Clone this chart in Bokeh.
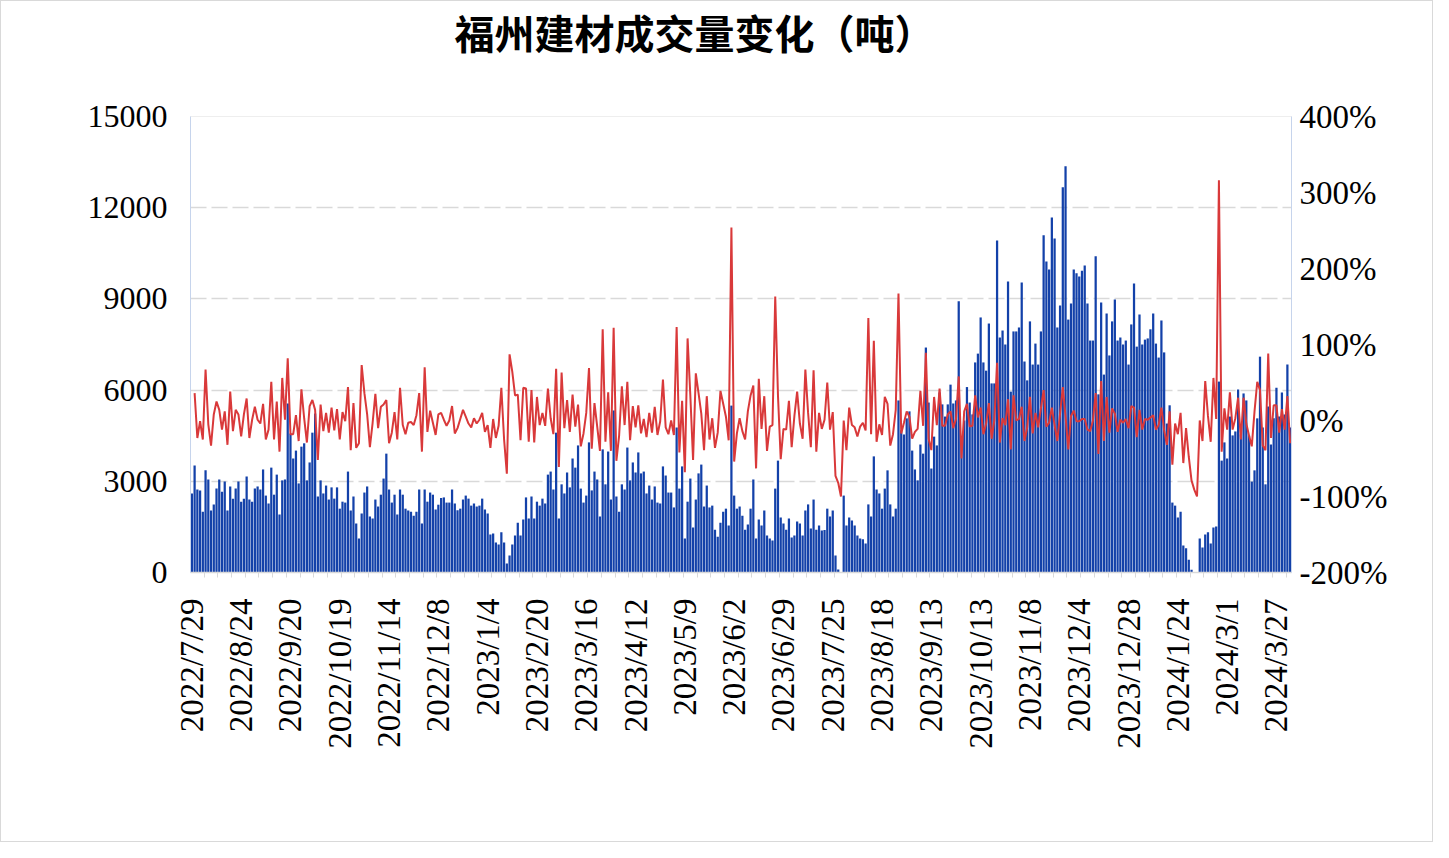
import math
from bokeh.plotting import figure
from bokeh.models import Range1d, LinearAxis, FixedTicker, ColumnDataSource, NumeralTickFormatter, Title
from bokeh.embed import file_html
from bokeh.resources import INLINE

title_text = "福州建材成交量变化（吨）"

# x-axis labels (one every 18 trading days)
tick_labels = ["2022/7/29", "2022/8/24", "2022/9/20", "2022/10/19", "2022/11/14", "2022/12/8",
               "2023/1/4", "2023/2/20", "2023/3/16", "2023/4/12", "2023/5/9", "2023/6/2",
               "2023/6/29", "2023/7/25", "2023/8/18", "2023/9/13", "2023/10/13", "2023/11/8",
               "2023/12/4", "2023/12/28", "2024/1/24", "2024/3/1", "2024/3/27"]

# daily volume (tonnes)
volume = [
    2600, 3520, 2730, 2700, 2000, 3360, 3060, 2040, 2240, 2760, 3060, 2660, 2990, 2040, 2830, 2430, 2760,
    2990, 2330, 2430, 3160, 2400, 2330, 2760, 2830, 2730, 3390, 2530, 2270, 3450, 2560, 3220, 1910,
    3030, 3060, 5560, 4570, 3750, 4010, 2930, 4140, 4250, 3030, 3620, 4600, 5230, 2500, 3030, 2600, 2860,
    2400, 2800, 2430, 2800, 2100, 2330, 2300, 3320, 2040, 2500, 1610, 1120, 1940, 2630, 2830, 1840,
    1780, 2400, 2170, 2560, 3090, 3910, 2730, 2300, 2560, 1910, 2730, 2560, 2100, 2040, 2000, 1870, 2000,
    2730, 1610, 2730, 2330, 2630, 2560, 2070, 2230, 2450, 2470, 2300, 2300, 2730, 2270, 2050, 2100, 2400,
    2530, 2430, 2200, 2270, 2170, 2200, 2430, 2070, 1940, 1250, 1280, 990, 920, 1320, 990, 300, 560,
    920, 1220, 1640, 1220, 1740, 2470, 1780, 2500, 1780, 2330, 2200, 2430, 2270, 3220, 3320, 2730, 4600,
    1780, 2900, 2600, 3290, 2800, 3750, 3450, 4180, 2760, 2300, 2530, 4280, 2700, 3320, 3060, 1840, 4050,
    2900, 3980, 2400, 5330, 2500, 2000, 2900, 2730, 4110, 3030, 3620, 3290, 3950, 3260, 3320, 2600,
    2860, 2400, 2830, 2300, 2270, 3490, 3190, 2630, 2630, 2140, 4770, 2760, 3490, 1120, 2330, 3090, 1480,
    2400, 3260, 3550, 2170, 2860, 2140, 2200, 1410, 1180, 1640, 2000, 2100, 1550, 5490, 2530, 2100, 2170,
    1870, 1410, 1580, 2100, 3060, 1120, 1740, 1550, 2040, 1220, 1120, 1050, 2760, 3680, 1810, 1610, 1410,
    1780, 1150, 1220, 1680, 1610, 1220, 2040, 2240, 1450, 2400, 1410, 1550, 1380, 1400, 2100, 1840,
    2040, 560, 100, 0, 2530, 1550, 1810, 1710, 1550, 1220, 1120, 1090, 950, 2240, 1840, 3820, 2730,
    2600, 2100, 2760, 3360, 2240, 1840, 2100, 5660, 4680, 4540, 5070, 5300, 4010, 3390, 3030, 4210, 3910,
    7400, 5590, 3420, 4470, 4180, 5920, 5530, 5130, 5530, 6180, 5560, 5660, 8920, 4460, 5000, 6100, 5590,
    5200, 6910, 7200, 8390, 6910, 6640, 8190, 6220, 6220, 10920, 7730, 7960, 7500, 9570, 5950, 7930,
    7930, 8060, 9540, 6940, 6320, 8260, 6840, 7530, 6840, 7930, 11090, 10230, 9970, 11680, 10990, 8060, 8780,
    12670, 13360, 8320, 8850, 9970, 9840, 9740, 9930, 10100, 8850, 7630, 7630, 10400, 5860, 8880, 6510, 8520, 7140,
    8260, 8980, 7630, 7730, 7500, 7630, 6840, 8160, 9510, 7430, 8490, 7500, 7660, 7700, 8000, 8520,
    7530, 7070, 8290, 7240, 4900, 5500, 2300, 2200, 1810, 2000, 890, 800, 420, 90, 8, 0,
    1120, 820, 1250, 1320, 950, 1480, 1510, 6280, 3680, 4280, 3750, 5130, 4510, 4640, 6020, 4540, 5890,
    5660, 4510, 2990, 3360, 5070, 7100, 4770, 2900, 5460, 4210, 5070, 6080, 5130, 5920, 5200, 6840, 4770,
]

# day-on-day change (%), first day has no value
change_pct = [
    float("nan"),
    36, -23, -1, -25, 67, -5, -33, 8, 25, 14, -12, 12, -32, 38, -14, 14, 8, -21, 8, 29, -23, 1, 18, 1,
    -4, 22, -25, -12, 51, -25, 25, -41, 56,
    1, 82, -18, -18, 7, -27, 41, 3, -29, 19, 27, 14, -52, 21, -14, 10, -16, 17, -13, 15, -25, 11, -1,
    44, -39, 23, -36, -30, 73, 36, 8, -35, -3,
    35, -10, 18, 21, 27, -30, -16, 11, -25, 43, -6, -18, -3, -2, -6, 7, 36, -41, 70, -15, 13, -3, -19,
    8, 10, 1, -7, 0, 19, -17, -10, 2, 14,
    5, -4, -9, 3, -4, 1, 10, -15, -6, -36, 2, -23, -7, 43, -25, -70, 87, 64, 33, 34, -26, 43, 42, -28,
    40, -29, 31, -6, 10, -7, 42, 3, -18, 68,
    -61, 63, -10, 27, -15, 34, -8, 21, -34, -17, 10, 69, -37, 23, -8, -40, 120, -28, 37, -40, 122, -53,
    -20, 45, -6, 51, -26, 19, -9, 20, -17, 2, -22,
    10, -16, 18, -19, -1, 54, -9, -18, 0, -19, 123, -42, 26, -68, 108, 33, -52, 62, 36, 9, -39, 32, -25,
    3, -36, -16, 39, 22, 5, -26, 254, -54, -17, 3,
    -14, -25, 12, 33, 46, -63, 55, -11, 32, -40, -8, -6, 163, 33, -51, -11, -12, 26, -35, 6, 38, -4, -24,
    67, 10, -35, 66, -41, 10, -11, 1, 50, -12,
    11, -73, -82, -100, 0, -39, 17, -6, -9, -21, -8, -3, -13, 135, -18, 105, -28, -5, -19, 31, 22, -33,
    -18, 14, 167, -17, -3, 12, 5, -24, -15, -11, 39, -7,
    89, -24, -39, 31, -6, 42, -7, -7, 8, 12, -10, 2, 58, -50, 12, 22, -8, -7, 33, 4, 17, -18, -4, 23,
    -24, 0, 76, -29, 3, -6, 28, -38, 33,
    0, 2, 18, -27, -9, 31, -17, 10, -9, 16, 40, -8, -3, 17, -6, -27, 9, 44, 5, -38, 6, 13, -1, -1, 2, 2,
    -12, -14, 0, 36, -44, 52, -27, 31, -16,
    16, 9, -15, 1, -3, 2, -10, 19, 17, -22, 14, -12, 2, 1, 4, 7, -12, -6, 17, -13, -32, 12, -58, -4, -18,
    10, -56, -10, -48, -79, -91, -100,
    0, -27, 52, 6, -28, 56, 2, 316, -41, 16, -12, 37, -12, 3, 30, -25, 30, -4, -20, -34, 12, 51, 40, -33,
    -39, 88, -23, 20, 20, -16, 15, -12, 32, -30,
]

n = len(volume)
idx = list(range(n))
source = ColumnDataSource(data=dict(x=idx, volume=volume, pct=change_pct))

label_step = 18
label_pos = [label_step * k for k in range(len(tick_labels))]

p = figure(width=1433, height=842, output_backend="svg", toolbar_location=None,
           x_range=Range1d(-0.5, n - 0.5), y_range=Range1d(0, 15000),
           min_border_left=189, min_border_right=143, min_border_top=115, min_border_bottom=271)
p.extra_y_ranges = {"pct": Range1d(-200, 400)}
p.title = None

p.vbar(x="x", top="volume", width=0.82, source=source, fill_color="#1341A9", line_color=None)
p.line(x="x", y="pct", source=source, y_range_name="pct", line_color="#D9393A", line_width=2)

label_font = "Liberation Serif"

# spacer between frame and title, then the title itself (further from the frame)
spacer = Title(text=" ", text_font="Noto Sans CJK SC", text_font_size="10px", standoff=37)
p.add_layout(spacer, "above")
main_title = Title(text=title_text, text_font="Noto Sans CJK SC", text_font_size="40px",
                   text_font_style="bold", text_color="#000000", align="left", offset=264,
                   vertical_align="top", standoff=0)
p.add_layout(main_title, "above")

# grid
p.xgrid.visible = False
p.ygrid.ticker = FixedTicker(ticks=[3000, 6000, 9000, 12000])
p.ygrid.grid_line_color = "#d9d9d9"
p.ygrid.grid_line_width = 1.5
p.ygrid.grid_line_dash = "16 5"
p.outline_line_color = "#eeeeee"
p.background_fill_color = "white"
p.border_fill_color = "white"

# left axis
ya = p.yaxis[0]
ya.ticker = FixedTicker(ticks=[0, 3000, 6000, 9000, 12000, 15000])
ya.formatter = NumeralTickFormatter(format="0")
ya.axis_line_color = "#c6d4ec"
ya.major_tick_line_color = None
ya.minor_tick_line_color = None
ya.major_label_text_font = label_font
ya.major_label_text_font_size = "32px"
ya.major_label_text_color = "#000000"
ya.major_label_standoff = 17

# right axis
pct_ticks = [-200, -100, 0, 100, 200, 300, 400]
ra = LinearAxis(y_range_name="pct", ticker=FixedTicker(ticks=pct_ticks),
                major_label_overrides={t: f"{t}%" for t in pct_ticks})
ra.axis_line_color = "#c6d4ec"
ra.major_tick_line_color = None
ra.minor_tick_line_color = None
ra.major_label_text_font = label_font
ra.major_label_text_font_size = "33px"
ra.major_label_text_color = "#000000"
ra.major_label_standoff = 2
p.add_layout(ra, "right")

# bottom axis
xa = p.xaxis[0]
xa.ticker = FixedTicker(ticks=label_pos, minor_ticks=[k - 0.5 for k in range(5, n, 5)])
xa.major_label_overrides = {pos: lab for pos, lab in zip(label_pos, tick_labels)}
xa.major_label_orientation = math.pi / 2
xa.major_label_text_font = label_font
xa.major_label_text_font_size = "33px"
xa.major_label_text_color = "#000000"
xa.major_label_standoff = 20
xa.axis_line_color = "#d9d9d9"
xa.axis_line_width = 1.5
xa.major_tick_line_color = None
xa.minor_tick_line_color = "#d9d9d9"
xa.minor_tick_out = 5
xa.minor_tick_in = 0

p.styles = {"border": "1px solid #d9d9d9"}

open("out.html", "w").write(file_html(p, INLINE))
